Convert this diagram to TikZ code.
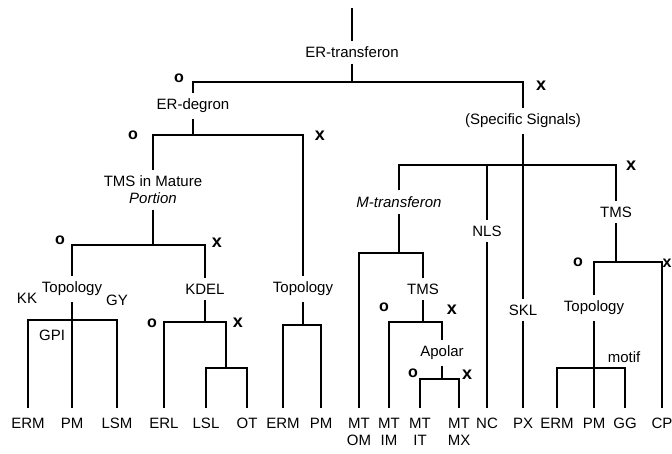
\documentclass[tikz,border=0pt]{standalone}
\usepackage{fontspec}
\setmainfont{Liberation Sans}
\usetikzlibrary{positioning}

\begin{document}
\begin{tikzpicture}[x=1pt,y=-1pt,font=\fontsize{15}{17}\selectfont,line width=1.9pt,
    lab/.style={inner sep=2pt,outer sep=4pt},
    leaf/.style={anchor=north,align=center,inner sep=1pt,outer ysep=9pt},
    omark/.style={font=\fontsize{16}{16}\selectfont\bfseries,inner sep=0pt},
    xmark/.style={font=\fontsize{18}{18}\selectfont\bfseries,inner sep=0pt}]
  \useasboundingbox (0,0) rectangle (672,453);
  % inner labels
  \coordinate (top) at (352,8);
  \node[lab] (root) at (352,52) {ER-transferon};
  \node[lab] (degron) at (193,106) {ER-degron};
  \node[lab] (spec) at (523,121) {(Specific Signals)};
  \node[lab,align=center] (tmsmat) at (153,190) {TMS in Mature\\\textit{Portion}};
  \node[lab] (topoa) at (72,289) {Topology};
  \node[lab] (kdel) at (205,289) {KDEL};
  \node[lab] (topob) at (303,289) {Topology};
  \node[lab] (mtrans) at (399,202) {\textit{M-transferon}};
  \node[lab] (nls) at (487,231) {NLS};
  \node[lab] (tmsc) at (616,212) {TMS};
  \node[lab] (tmsb) at (423,289) {TMS};
  \node[lab] (skl) at (523,310) {SKL};
  \node[lab] (apolar) at (442,353) {Apolar};
  \node[lab] (topoc) at (594,308) {Topology};
  \node (kk) at (27,298) {KK}; \node (gy) at (117,300) {GY};
  \node (gpi) at (52,335) {GPI}; \node (motif) at (624,357) {motif};
  % leaves
  \node[leaf] (erma) at (28,408) {ERM}; \node[leaf] (pma) at (72,408) {PM};
  \node[leaf] (lsm) at (117,408) {LSM}; \node[leaf] (erl) at (164,408) {ERL};
  \node[leaf] (lsl) at (206,408) {LSL}; \node[leaf] (ot) at (247,408) {OT};
  \node[leaf] (ermb) at (283,408) {ERM}; \node[leaf] (pmb) at (321,408) {PM};
  \node[leaf] (mtom) at (359,408) {MT\\OM}; \node[leaf] (mtim) at (389,408) {MT\\IM};
  \node[leaf] (mtit) at (420,408) {MT\\IT}; \node[leaf] (mtmx) at (459,408) {MT\\MX};
  \node[leaf] (nc) at (487,408) {NC}; \node[leaf] (px) at (523,408) {PX};
  \node[leaf] (ermc) at (557,408) {ERM}; \node[leaf] (pmc) at (594,408) {PM};
  \node[leaf] (gg) at (625,408) {GG}; \node[leaf] (cp) at (662,408) {CP};
  % branch points
  \coordinate (j0) at (352,82); \coordinate (j1) at (193,135);
  \coordinate (j2) at (153,245); \coordinate (j3) at (205,322);
  \coordinate (j4) at (226,368); \coordinate (j5) at (303,325);
  \coordinate (j6) at (72,320); \coordinate (j7) at (523,165);
  \coordinate (j8) at (399,253); \coordinate (j9) at (423,322);
  \coordinate (j10) at (442,379); \coordinate (j11) at (616,262);
  \coordinate (j12) at (594,368);
  % tree
  \draw (top) -- (root); \draw (root) -- (j0); \draw (degron) |- (j0) -| (spec);
  \draw (degron) -- (j1); \draw (tmsmat) |- (j1) -| (topob);
  \draw (tmsmat) -- (j2); \draw (topoa) |- (j2) -| (kdel);
  \draw (topoa) -- (pma); \draw (erma) |- (j6) -| (lsm);
  \draw (kdel) -- (j3); \draw (erl) |- (j3) -| (j4); \draw (lsl) |- (j4) -| (ot);
  \draw (topob) -- (j5); \draw (ermb) |- (j5) -| (pmb);
  \draw (spec) -- (skl); \draw (skl) -- (px); \draw (mtrans) |- (j7) -| (tmsc);
  \draw (nls) -- (nls |- j7); \draw (nls) -- (nc);
  \draw (mtrans) -- (j8); \draw (mtom) |- (j8) -| (tmsb);
  \draw (tmsb) -- (j9); \draw (mtim) |- (j9) -| (apolar);
  \draw (apolar) -- (j10); \draw (mtit) |- (j10) -| (mtmx);
  \draw (tmsc) -- (j11); \draw (topoc) |- (j11) -| (cp);
  \draw (topoc) -- (pmc); \draw (ermc) |- (j12) -| (gg);
  % o / x marks
  \node[omark] (oa) at (179,78) {o}; \node[xmark] (xa) at (541,86) {x};
  \node[omark] (ob) at (133,135) {o}; \node[xmark] (xb) at (320,136) {x};
  \node[omark] (oc) at (60,240) {o}; \node[xmark] (xc) at (217,243) {x};
  \node[omark] (od) at (152,323) {o}; \node[xmark] (xd) at (238,323) {x};
  \node[omark] (oe) at (384,307) {o}; \node[xmark] (xe) at (452,310) {x};
  \node[omark] (of) at (413,373) {o}; \node[xmark] (xf) at (467,375) {x};
  \node[xmark] (xg) at (631,166) {x};
  \node[omark] (oh) at (578,262) {o};
  \node[xmark,font=\fontsize{16}{16}\selectfont\bfseries] (xh) at (667,263) {x};
\end{tikzpicture}
\end{document}
